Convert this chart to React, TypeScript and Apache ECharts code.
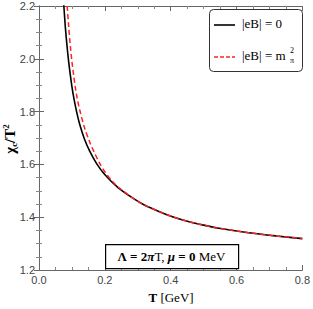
import React, { useEffect, useRef } from "react";
import * as echarts from "echarts";

const T_B0 = [0.072, 0.0755, 0.08, 0.085, 0.09, 0.095, 0.1, 0.106, 0.115, 0.124, 0.138, 0.154, 0.175, 0.199, 0.24, 0.284, 0.32, 0.366, 0.41, 0.456, 0.5, 0.547, 0.637, 0.72, 0.8];
const CHI_B0 = [2.26, 2.2, 2.12, 2.05, 1.99, 1.94, 1.895, 1.85, 1.795, 1.75, 1.696, 1.65, 1.603, 1.563, 1.512, 1.473, 1.446, 1.421, 1.4, 1.383, 1.37, 1.358, 1.341, 1.329, 1.319];
const T_BM = [0.082, 0.0856, 0.09, 0.095, 0.1, 0.105, 0.11, 0.116, 0.124, 0.138, 0.154, 0.17, 0.184, 0.2, 0.22, 0.24, 0.284, 0.32, 0.366, 0.41, 0.456, 0.5, 0.547, 0.637, 0.72, 0.8];
const CHI_BM = [2.26, 2.2, 2.125, 2.05, 1.99, 1.94, 1.895, 1.85, 1.805, 1.74, 1.685, 1.64, 1.605, 1.572, 1.54, 1.515, 1.473, 1.446, 1.421, 1.4, 1.383, 1.37, 1.358, 1.341, 1.329, 1.319];
const X_TICKS = [0, 0.2, 0.4, 0.6, 0.8];
const Y_TICKS = [1.2, 1.4, 1.6, 1.8, 2.0, 2.2];

const SERIF = "'Liberation Serif', 'DejaVu Serif', serif";
const SANS = "'Liberation Sans', Arial, sans-serif";

export default function App() {
  const ref = useRef<HTMLDivElement>(null);
  useEffect(() => {
    const chart = echarts.init(ref.current!, null, { renderer: "svg" });
    const axisCommon = {
      axisLine: { show: true, lineStyle: { color: "#666", width: 1 } },
      axisTick: { show: true, inside: true, length: 5, lineStyle: { color: "#666" } },
      minorTick: { show: true, splitNumber: 4, length: 3, lineStyle: { color: "#888" } },
      splitLine: { show: false },
    };
    chart.setOption({
      animation: false,
      backgroundColor: "#fff",
      grid: { left: 39, right: 9, top: 6, bottom: 39, show: false },
      xAxis: [
        {
          type: "value", min: X_TICKS[0], max: X_TICKS[X_TICKS.length - 1], interval: 0.2,
          ...axisCommon,
          axisLabel: { color: "#444", fontFamily: SANS, fontSize: 11, margin: 4, formatter: (v: number) => v.toFixed(1) },
        },
        {
          type: "value", position: "top", min: X_TICKS[0], max: X_TICKS[X_TICKS.length - 1], interval: 0.2,
          ...axisCommon, axisLabel: { show: false },
        },
      ],
      yAxis: [
        {
          type: "value", min: Y_TICKS[0], max: Y_TICKS[Y_TICKS.length - 1], interval: 0.2,
          ...axisCommon,
          axisLabel: { color: "#444", fontFamily: SANS, fontSize: 11, margin: 4, formatter: (v: number) => v.toFixed(1) },
        },
        {
          type: "value", position: "right", min: Y_TICKS[0], max: Y_TICKS[Y_TICKS.length - 1], interval: 0.2,
          ...axisCommon, axisLabel: { show: false },
        },
      ],
      series: [
        {
          type: "line", smooth: 0.3, symbol: "none", clip: true,
          data: T_B0.map((t, i) => [t, CHI_B0[i]]),
          lineStyle: { color: "#000", width: 1.6 },
          z: 2,
        },
        {
          type: "line", smooth: 0.3, symbol: "none", clip: true,
          data: T_BM.map((t, i) => [t, CHI_BM[i]]),
          lineStyle: { color: "#ff2222", width: 1.5, type: [5, 3] },
          z: 3,
        },
      ],
      graphic: [
        {
          type: "rect", left: 209, top: 9, shape: { width: 93, height: 62, r: 4 },
          style: { fill: "#fff", stroke: "#333", lineWidth: 1 }, z: 10,
        },
        { type: "line", shape: { x1: 214, y1: 25, x2: 235, y2: 25 }, style: { stroke: "#000", lineWidth: 1.6 }, z: 11 },
        { type: "line", shape: { x1: 214, y1: 57, x2: 235, y2: 57 }, style: { stroke: "#ff2222", lineWidth: 1.5, lineDash: [4, 2] }, z: 11 },
        {
          type: "text", left: 242, top: 17, z: 11,
          style: { text: "|eB| = 0", font: `13px ${SERIF}`, fill: "#000" },
        },
        {
          type: "text", left: 242, top: 49, z: 11,
          style: { text: "|eB| = m", font: `13px ${SERIF}`, fill: "#000" },
        },
        {
          type: "text", left: 290, top: 46, z: 11,
          style: { text: "2", font: `8px ${SERIF}`, fill: "#000" },
        },
        {
          type: "text", left: 290, top: 56, z: 11,
          style: { text: "π", font: `8px ${SERIF}`, fill: "#000" },
        },
        {
          type: "rect", left: 105, top: 244, shape: { width: 133, height: 24 },
          style: { fill: "#fff", stroke: "#000", lineWidth: 1.2 }, z: 10,
        },
        {
          type: "text", x: 171.5, y: 256, z: 11,
          style: {
            text: "{b|Λ = 2}{bi|π}{r|T, }{bi|μ}{b| = 0 }{r|MeV}",
            align: "center", verticalAlign: "middle",
            rich: {
              b: { font: `bold 13px ${SERIF}`, fill: "#000" },
              bi: { font: `italic bold 13px ${SERIF}`, fill: "#000" },
              r: { font: `13px ${SERIF}`, fill: "#000" },
            },
          },
        },
        {
          type: "text", x: 171, y: 297, z: 11,
          style: {
            text: "{b|T} {r|[GeV]}", align: "center", verticalAlign: "middle",
            rich: {
              b: { font: `bold 13px ${SERIF}`, fill: "#000" },
              r: { font: `13px ${SERIF}`, fill: "#000" },
            },
          },
        },
        {
          type: "group", x: 10, y: 139, rotation: Math.PI / 2,
          children: [
            {
              type: "text", x: 0, y: 0,
              style: {
                text: "{b|χ}{s|c}{b|/T}{p|2}", align: "center", verticalAlign: "middle",
                rich: {
                  b: { font: `bold 15px ${SERIF}`, fill: "#000", lineHeight: 20, verticalAlign: "middle" },
                  s: { font: `bold 9px ${SERIF}`, fill: "#000", lineHeight: 20, verticalAlign: "bottom", padding: [0, 0, 2, 0] },
                  p: { font: `bold 9px ${SERIF}`, fill: "#000", lineHeight: 20, verticalAlign: "top", padding: [1, 0, 0, 0] },
                },
              },
            },
          ],
        },
      ],
    });
    return () => chart.dispose();
  }, []);
  return <div ref={ref} style={{ position: "fixed", left: 0, top: 0, width: 313, height: 309 }} />;
}
